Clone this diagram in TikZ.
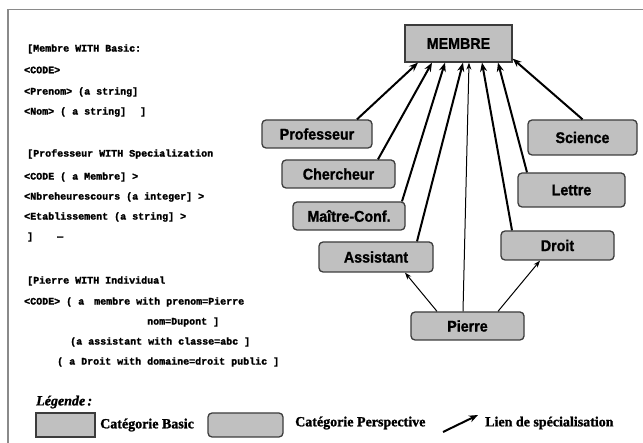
\documentclass[tikz,border=0pt]{standalone}
\usepackage{fontspec}
\usetikzlibrary{arrows.meta,calc}
\newfontfamily\boxfont[FakeStretch=0.92,FakeBold=1.2]{Liberation Sans}
\newfontfamily\codefont[FakeBold=1.6]{Liberation Mono}
\newfontfamily\legfont[FakeBold=1.4]{Liberation Serif}
\definecolor{boxfill}{HTML}{C0C0C0}
\definecolor{boxline}{HTML}{3C3C3C}
\definecolor{framecol}{HTML}{8A8A8A}
\tikzset{
  cat/.style={draw=boxline, line width=1.3pt, fill=boxfill, inner sep=0pt,
    font=\boxfont\bfseries\fontsize{15.5}{15.5}\selectfont},
  basic/.style={cat, rectangle},
  persp/.style={cat, rounded corners=4pt},
  spec/.style={line width=2pt, -{Stealth[length=9pt,width=7pt]}},
  specthin/.style={line width=1pt, -{Stealth[length=7pt,width=5pt]}},
  code/.style={anchor=west, inner sep=0pt,
    font=\codefont\bfseries\fontsize{10}{10}\selectfont},
  legtext/.style={anchor=west, inner sep=0pt,
    font=\legfont\bfseries\fontsize{14}{14}\selectfont}
}
\begin{document}
\begin{tikzpicture}[x=1pt,y=-1pt]
\useasboundingbox (0,0) rectangle (643,443);
% frame
\draw[framecol, line width=1.6pt] (8,443) -- (8,9.5) -- (643,9.5);

% description of the objects
\node[code] (l1)  at (27,49)  {[Membre WITH Basic:};
\node[code] (l2)  at (24,70)  {<CODE>};
\node[code] (l3)  at (24,92)  {<Prenom> (a string]};
\node[code] (l4)  at (24,112) {<Nom> ( a string]\hspace{14pt}]};
\node[code] (l5)  at (27,154) {[Professeur WITH Specialization};
\node[code] (l6)  at (24,177) {<CODE ( a Membre] >};
\node[code] (l7)  at (24,197) {<Nbreheurescours (a integer] >};
\node[code] (l8)  at (24,217) {<Etablissement (a string] >};
\node[code] (l9)  at (27,237) {]\hspace{24pt}—};
\node[code] (l10) at (27,281) {[Pierre WITH Individual};
\node[code] (l11) at (24,302) {<CODE> ( a\hspace{10pt}membre with prenom=Pierre};
\node[code] (l12) at (147,322) {nom=Dupont ]};
\node[code] (l13) at (70,342) {(a assistant with classe=abc ]};
\node[code] (l14) at (57,362) {( a Droit with domaine=droit public ]};

% categories
\node[basic, minimum width=107pt, minimum height=37pt] (membre) at (458.5,43.5) {MEMBRE};
\node[persp, minimum width=110pt, minimum height=28pt] (prof)   at (317,134)    {Professeur};
\node[persp, minimum width=113pt, minimum height=28pt] (cherch) at (338.5,174)  {Chercheur};
\node[persp, minimum width=112pt, minimum height=28pt] (mconf)  at (349,216)    {Maître-Conf.};
\node[persp, minimum width=114pt, minimum height=30pt] (assist) at (376,257)    {Assistant};
\node[persp, minimum width=113pt, minimum height=28pt] (pierre) at (467.5,326)  {Pierre};
\node[persp, minimum width=113pt, minimum height=29pt] (droit)  at (557.5,245.5){Droit};
\node[persp, minimum width=107pt, minimum height=34pt] (lettre) at (571.5,190)  {Lettre};
\node[persp, minimum width=109pt, minimum height=35pt] (science)at (582.5,137.5){Science};

% specialisation links
\draw[spec] ([xshift=40pt]prof.north)     -- ([xshift=-40.5pt]membre.south);
\draw[spec] ([xshift=39.5pt]cherch.north) -- ([xshift=-26.5pt]membre.south);
\draw[spec] ([xshift=53pt]mconf.north)    -- ([xshift=-13.5pt]membre.south);
\draw[spec] ([xshift=41pt]assist.north)   -- ([xshift=4.5pt]membre.south);
\draw[specthin] ([xshift=-4.5pt]pierre.north) -- ([xshift=10.5pt]membre.south);
\draw[spec] ([xshift=-45.5pt]droit.north) -- ([xshift=23.5pt]membre.south);
\draw[spec] ([xshift=-44.5pt]lettre.north) -- ([xshift=39.5pt]membre.south);
\draw[spec] (science.north) -- ([yshift=4pt]membre.south east);
\draw[specthin] ([xshift=-30.5pt]pierre.north) -- ([xshift=29pt]assist.south);
\draw[specthin] ([xshift=30.5pt]pierre.north)  -- ([xshift=-17.5pt]droit.south);

% legend
\node[legtext, font=\legfont\bfseries\itshape\fontsize{14}{14}\selectfont] (leg) at (36,402) {Légende\,:};
\node[basic, minimum width=59pt, minimum height=24pt] (legbasic) at (65.5,425) {};
\node[legtext] (legbasictxt) at (100,425) {Catégorie Basic};
\node[persp, minimum width=75pt, minimum height=24pt] (legpersp) at (245.5,425) {};
\node[legtext] (legpersptxt) at (295,423) {Catégorie Perspective};
\coordinate (arrA) at (443,432);
\coordinate (arrB) at (478,415);
\draw[spec] (arrA) -- (arrB);
\node[legtext] (legspec) at (485,423) {Lien de spécialisation};
\end{tikzpicture}
\end{document}
